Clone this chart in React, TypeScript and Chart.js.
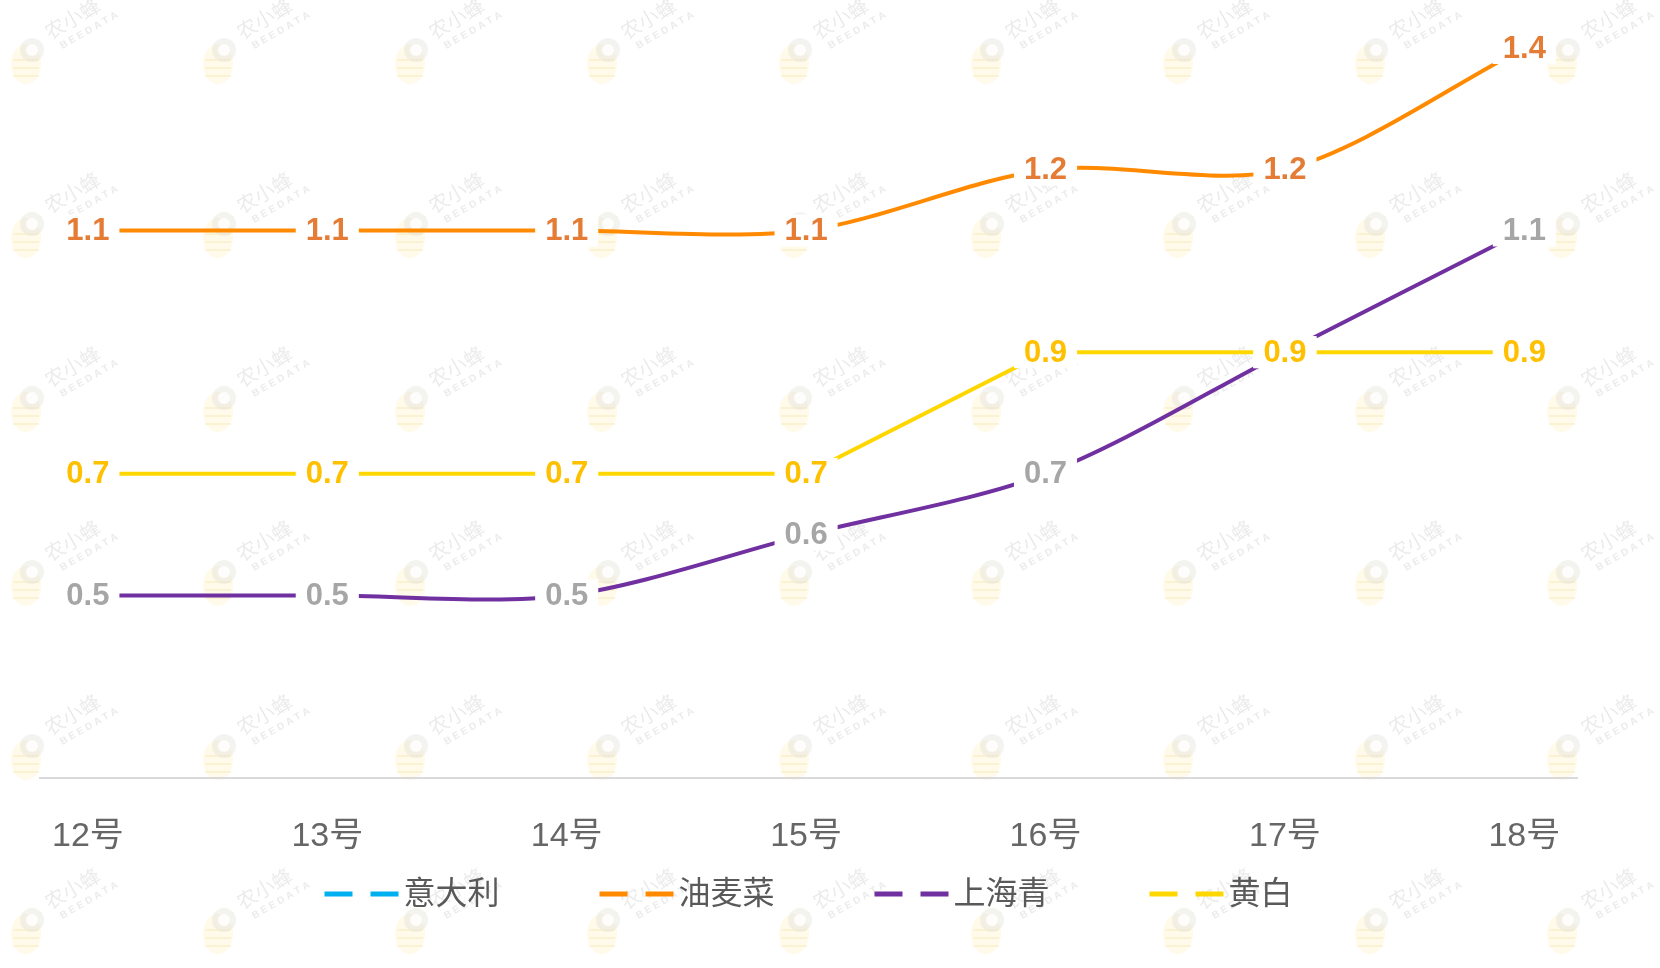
import React, { useEffect, useRef } from "react";
import { Chart, registerables } from "chart.js";

Chart.register(...registerables);

const categories = ["12号", "13号", "14号", "15号", "16号", "17号", "18号"];
const seriesNames = ["意大利", "油麦菜", "上海青", "黄白"];
const italyValues: number[] = [];
const youmaicaiValues = [1.1, 1.1, 1.1, 1.1, 1.2, 1.2, 1.4];
const shanghaiqingValues = [0.5, 0.5, 0.5, 0.6, 0.7, 0.9, 1.1];
const huangbaiValues = [0.7, 0.7, 0.7, 0.7, 0.9, 0.9, 0.9];

const lineColors = ["#00B0F0", "#FF8A00", "#7030A0", "#FFD700"];
const labelColors = ["#00B0F0", "#E57C35", "#A6A6A6", "#FFC000"];
const tensions = [0.3, 0.3, 0.3, 0];

const FONT = '"Liberation Sans", Arial, "Noto Sans CJK SC", sans-serif';

const watermarkPlugin = {
  id: "watermark",
  beforeDraw(chart: any) {
    const ctx = chart.ctx;
    ctx.save();
    for (let r = 0; r < 6; r++) {
      for (let c = 0; c < 9; c++) {
        const cx = 26 + c * 192;
        const cy = 58 + r * 174;
        ctx.fillStyle = "rgba(255,238,180,0.28)";
        ctx.beginPath();
        ctx.ellipse(cx, cy + 6, 15, 20, 0, 0, Math.PI * 2);
        ctx.fill();
        ctx.strokeStyle = "rgba(240,225,170,0.35)";
        ctx.lineWidth = 2;
        for (let k = 0; k < 3; k++) {
          ctx.beginPath();
          ctx.moveTo(cx - 13, cy + 2 + k * 8);
          ctx.lineTo(cx + 13, cy + 2 + k * 8);
          ctx.stroke();
        }
        ctx.fillStyle = "rgba(225,225,215,0.4)";
        ctx.beginPath();
        ctx.arc(cx + 6, cy - 8, 12, 0, Math.PI * 2);
        ctx.fill();
        ctx.fillStyle = "rgba(255,255,255,0.85)";
        ctx.beginPath();
        ctx.arc(cx + 6, cy - 8, 6, 0, Math.PI * 2);
        ctx.fill();
        ctx.save();
        ctx.translate(cx + 24, cy - 18);
        ctx.rotate(-Math.PI / 6);
        ctx.fillStyle = "rgba(205,205,205,0.4)";
        ctx.font = `20px ${FONT}`;
        ctx.textBaseline = "alphabetic";
        ctx.fillText("农小蜂", 0, 0);
        ctx.font = `bold 10px ${FONT}`;
        ctx.fillText("B E E D A T A", 6, 14);
        ctx.restore();
      }
    }
    ctx.restore();
  },
};

const labelsPlugin = {
  id: "pointLabels",
  afterDatasetsDraw(chart: any) {
    const ctx = chart.ctx;
    ctx.save();
    ctx.font = `bold 31px ${FONT}`;
    ctx.textAlign = "center";
    ctx.textBaseline = "middle";
    chart.data.datasets.forEach((ds: any, i: number) => {
      const meta = chart.getDatasetMeta(i);
      meta.data.forEach((el: any, j: number) => {
        const v = ds.data[j].y;
        const txt = v.toFixed(1);
        const w = ctx.measureText(txt).width;
        ctx.fillStyle = "#ffffff";
        ctx.fillRect(el.x - w / 2 - 10, el.y - 16, w + 20, 32);
        ctx.fillStyle = labelColors[i];
        ctx.fillText(txt, el.x, el.y + 1);
      });
    });
    ctx.restore();
  },
};

const legendPlugin = {
  id: "customLegend",
  afterDraw(chart: any) {
    const ctx = chart.ctx;
    const area = chart.chartArea;
    ctx.save();
    ctx.font = `32px ${FONT}`;
    ctx.textBaseline = "middle";
    ctx.textAlign = "left";
    const markerW = 74;
    const dashW = 28;
    const gapText = 5;
    const itemGap = 100;
    const widths = seriesNames.map((n) => markerW + gapText + ctx.measureText(n).width);
    const total = widths.reduce((a, b) => a + b, 0) + itemGap * (seriesNames.length - 1);
    let x = (area.left + area.right) / 2 - total / 2;
    const y = 894;
    seriesNames.forEach((n, i) => {
      ctx.fillStyle = lineColors[i];
      ctx.fillRect(x, y - 2.5, dashW, 5);
      ctx.fillRect(x + markerW - dashW, y - 2.5, dashW, 5);
      ctx.fillStyle = "#595959";
      ctx.fillText(n, x + markerW + gapText, y + 1);
      x += widths[i] + itemGap;
    });
    ctx.restore();
  },
};

const allValues = [italyValues, youmaicaiValues, shanghaiqingValues, huangbaiValues];

export default function App() {
  const ref = useRef<HTMLCanvasElement>(null);
  useEffect(() => {
    if (!ref.current) return;
    const chart = new Chart(ref.current, {
      type: "line",
      data: {
        datasets: seriesNames.map((name, i) => ({
          label: name,
          data: allValues[i].map((v, j) => ({ x: j, y: v })),
          borderColor: lineColors[i],
          backgroundColor: lineColors[i],
          borderWidth: 4,
          pointRadius: 0,
          tension: tensions[i],
          fill: false,
        })),
      },
      options: {
        responsive: false,
        animation: false,
        layout: { padding: { left: 40, right: 83, top: 48, bottom: 0 } },
        plugins: { legend: { display: false }, tooltip: { enabled: false } },
        scales: {
          x: {
            type: "linear",
            min: -0.2,
            max: 6.22,
            afterBuildTicks: (scale: any) => {
              scale.ticks = categories.map((_, i) => ({ value: i }));
            },
            afterFit: (scale: any) => {
              scale.height = 190;
            },
            ticks: {
              autoSkip: false,
              maxRotation: 0,
              padding: 38,
              color: "#666666",
              font: { size: 34, family: FONT },
              callback: (v: any) => categories[v as number],
            },
            grid: { display: false, drawTicks: false },
            border: { display: true, color: "#D9D9D9", width: 2 },
          },
          y: {
            display: false,
            min: 0.2,
            max: 1.4,
          },
        },
      },
      plugins: [watermarkPlugin, labelsPlugin, legendPlugin],
    } as any);
    return () => chart.destroy();
  }, []);
  return (
    <canvas
      ref={ref}
      width={1660}
      height={968}
      style={{ position: "fixed", left: 0, top: 0, width: 1660, height: 968 }}
    />
  );
}
